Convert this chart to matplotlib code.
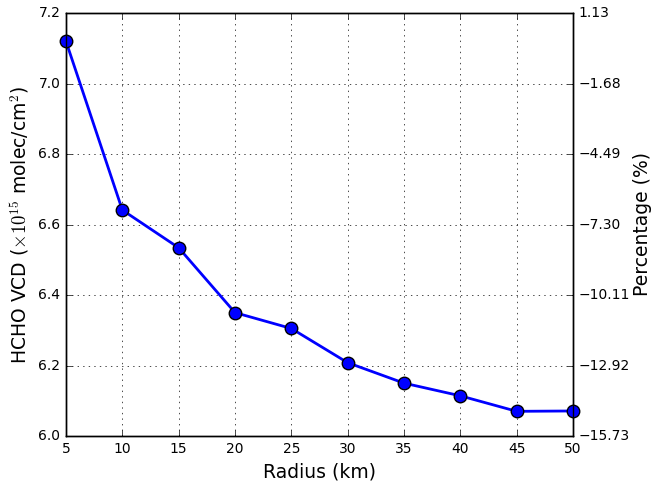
import matplotlib
matplotlib.use("Agg")
import matplotlib.pyplot as plt
import numpy as np

plt.style.use("classic")

radius = [5, 10, 15, 20, 25, 30, 35, 40, 45, 50]
vcd = [7.1196, 6.641, 6.534, 6.350, 6.305, 6.208, 6.150, 6.114, 6.070, 6.071]
left_ticks = [6.0, 6.2, 6.4, 6.6, 6.8, 7.0, 7.2]

fig = plt.figure(figsize=(6.53, 4.82), dpi=100, facecolor="white")
ax = fig.add_axes([66 / 653, 46 / 482, 507 / 653, 423 / 482])
ax.plot(radius, vcd, "-o", color="blue", lw=2, markersize=9,
        markerfacecolor="blue", markeredgecolor="black", markeredgewidth=1,
        clip_on=False, zorder=5)
ax.set_xlim(5, 50)
ax.set_ylim(6.0, 7.2)
ax.set_xticks(radius)
ax.set_yticks(left_ticks)
ax.grid(True, linestyle=":", color="black")
ax.tick_params(labelsize=10)
ax.set_xlabel("Radius (km)", fontsize=13.5)
ax.set_ylabel(r"HCHO VCD ($\times 10^{15}$ molec/cm$^2$)", fontsize=13.5)

# percentage change relative to the 5 km value
ax2 = ax.twinx()
ax2.set_ylim(ax.get_ylim())
ax2.set_yticks(left_ticks)
pct = ["%.2f" % ((t - vcd[0]) / vcd[0] * 100) for t in left_ticks]
ax2.set_yticklabels([p.replace("-", "\u2212") for p in pct])
ax2.tick_params(labelsize=10)
ax2.set_ylabel("Percentage (%)", fontsize=13.5, labelpad=2)

fig.savefig("out.png", dpi=100, facecolor="white")
